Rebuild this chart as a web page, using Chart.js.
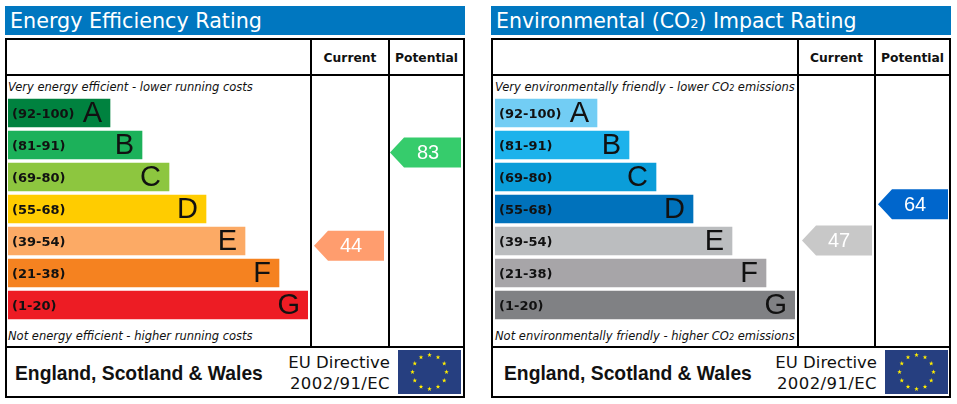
<!DOCTYPE html>
<html>
<head>
<meta charset="utf-8">
<title>EPC ratings</title>
<script src="https://cdn.jsdelivr.net/npm/chart.js@4"></script>
<style>
  html, body { margin: 0; background: #fff; overflow: hidden; }
  .panel { position: absolute; top: 0; width: 460px; height: 404px; font-family: 'DejaVu Sans', sans-serif; color: #111; }
  .panel div, .panel canvas, .panel svg { position: absolute; }
  .head { left: 0; top: 6px; width: 460px; height: 29px; background: #0077c0; color: #fff; line-height: 30px; text-indent: 5px; white-space: nowrap; }
  .head small { font-size: 13px; }
  .frame { left: 0; top: 38px; width: 456px; height: 356px; border: 2px solid #000; }
  .vline { top: 38px; width: 2px; height: 310px; background: #000; }
  .hline { left: 0; height: 2px; width: 460px; background: #000; }
  .col { top: 40px; height: 35px; line-height: 37px; text-align: center; font-size: 12.3px; font-weight: bold; }
  .note { font-size: 11.5px; font-style: italic; white-space: nowrap; line-height: 14px; }
  .note small { font-size: 8px; }
  .region { top: 363px; font: bold 19.3px 'Liberation Sans', sans-serif; white-space: nowrap; }
  .directive { top: 352px; text-align: right; font-size: 16.5px; line-height: 21px; white-space: nowrap; }
  .directive span { letter-spacing: 0.4px; }
</style>
</head>
<body>
<script>
const bands = [
  { label: '(92-100)', letter: 'A', min: 92, max: 100 },
  { label: '(81-91)', letter: 'B', min: 81, max: 91 },
  { label: '(69-80)', letter: 'C', min: 69, max: 80 },
  { label: '(55-68)', letter: 'D', min: 55, max: 68 },
  { label: '(39-54)', letter: 'E', min: 39, max: 54 },
  { label: '(21-38)', letter: 'F', min: 21, max: 38 },
  { label: '(1-20)', letter: 'G', min: 1, max: 20 }
]

// bar lengths
const barLengths = [102, 134, 161, 198, 237, 271, 300]

const panels = [{
  left: 5,
  barLeft: 3,
  noteLeft: 3,
  regionLeft: 10,
  directiveRight: 75,
  flagLeft: 393,
  divider: 305,
  headSize: 20.7,
  title: 'Energy Efficiency Rating',
  top: 'Very energy efficient - lower running costs',
  bottom: 'Not energy efficient - higher running costs',
  colors: ['#00823f', '#1cb15a', '#8dc63f', '#ffcc00', '#fcaa65', '#f58220', '#ed1c24'],
  current: { value: 44, color: '#ff9d6e', left: 311, right: 379 },
  potential: { value: 83, color: '#36cc6c', left: 387, right: 456 }
}, {
  left: 491,
  barLeft: 4,
  noteLeft: 4,
  regionLeft: 13,
  directiveRight: 74,
  flagLeft: 394,
  divider: 306,
  headSize: 20.5,
  title: 'Environmental (CO<small>2</small>) Impact Rating',
  top: 'Very environmentally friendly - lower CO<small>2</small> emissions',
  bottom: 'Not environmentally friendly - higher CO<small>2</small> emissions',
  colors: ['#72cdf4', '#1db2eb', '#0a9dd9', '#0072bc', '#bbbdbf', '#a7a5a8', '#808184'],
  current: { value: 47, color: '#c8c8c8', left: 313, right: 381 },
  potential: { value: 64, color: '#0066cc', left: 389, right: 457 }
}]

// band label and letter on each bar, arrows for the two scores
const epcPlugin = {
  id: 'epc',
  afterDatasetsDraw(chart, args, opts) {
    const ctx = chart.ctx
    const bars = chart.getDatasetMeta(0).data
    ctx.save()
    ctx.fillStyle = '#111'
    ctx.textBaseline = 'middle'
    bars.forEach((bar, i) => {
      ctx.textAlign = 'left'
      ctx.font = 'bold 13px "DejaVu Sans"'
      ctx.fillText(bands[i].label, bar.base + 4, bar.y + 2)
      ctx.textAlign = 'right'
      ctx.font = '29px "Liberation Sans"'
      ctx.fillText(bands[i].letter, bar.x - 8, bar.y + 1)
    })
    drawArrow(chart, opts.current)
    drawArrow(chart, opts.potential)
    ctx.restore()
  }
}

function drawArrow(chart, score) {
  const ctx = chart.ctx
  const idx = bands.findIndex(b => score.value >= b.min && score.value <= b.max)
  const band = bands[idx]
  const bar = chart.getDatasetMeta(0).data[idx]
  const span = band.max - band.min + 1
  const y = bar.y - 14 + (band.max - score.value) / span * 28 + 1.2
  ctx.beginPath()
  ctx.moveTo(score.left - 2, y)
  ctx.lineTo(score.left + 12, y - 15)
  ctx.lineTo(score.right, y - 15)
  ctx.lineTo(score.right, y + 15)
  ctx.lineTo(score.left + 12, y + 15)
  ctx.closePath()
  ctx.fillStyle = score.color
  ctx.fill()
  ctx.fillStyle = '#fff'
  ctx.textAlign = 'center'
  ctx.textBaseline = 'middle'
  ctx.font = '20px "Liberation Sans"'
  ctx.fillText(score.value, score.right - 33, y + 1)
}

function flag(left) {
  const stars = []
  for (let i = 0; i < 12; i++) {
    const a = i * Math.PI / 6
    const cx = 31.5 + 17 * Math.sin(a)
    const cy = 22 - 17 * Math.cos(a)
    const pts = []
    for (let k = 0; k < 10; k++) {
      const r = k % 2 ? 1 : 2.4
      const b = k * Math.PI / 5
      pts.push((cx + r * Math.sin(b)).toFixed(2) + ',' + (cy - r * Math.cos(b)).toFixed(2))
    }
    stars.push(`<polygon points="${pts.join(' ')}" fill="#ffed00"/>`)
  }
  return `<svg style="left:${left}px;top:350px" width="63" height="44"><rect width="63" height="44" fill="#263f80"/>${stars.join('')}</svg>`
}

panels.forEach(p => {
  const el = document.createElement('div')
  el.className = 'panel'
  el.style.left = p.left + 'px'
  el.innerHTML = `
    <div class="head" style="font-size:${p.headSize}px">${p.title}</div>
    <div class="frame"></div>
    <div class="vline" style="left:${p.divider}px"></div>
    <div class="vline" style="left:383px"></div>
    <div class="hline" style="top:74px"></div>
    <div class="hline" style="top:346px"></div>
    <div class="col" style="left:${p.divider + 2}px;width:${75 - (p.divider - 306)}px">Current</div>
    <div class="col" style="left:385px;width:73px">Potential</div>
    <div class="note" style="left:${p.noteLeft}px;top:80px">${p.top}</div>
    <div class="note" style="left:${p.noteLeft}px;top:329px">${p.bottom}</div>
    <div class="region" style="left:${p.regionLeft}px">England, Scotland &amp; Wales</div>
    <div class="directive" style="right:${p.directiveRight}px">EU Directive<br><span>2002/91/EC</span></div>
    ${flag(p.flagLeft)}
    <canvas width="460" height="360" style="left:0;top:38px;width:460px;height:360px"></canvas>`
  document.body.appendChild(el)

  new Chart(el.querySelector('canvas').getContext('2d'), {
    type: 'bar',
    data: {
      labels: bands.map(b => b.label),
      datasets: [{
        data: barLengths,
        backgroundColor: p.colors,
        barThickness: 28
      }]
    },
    options: {
      indexAxis: 'y',
      responsive: false,
      animation: false,
      layout: { padding: { left: p.barLeft, top: 59, right: 460 - p.barLeft - 300, bottom: 77 } },
      scales: {
        x: { display: false, min: 0, max: 300 },
        y: { display: false }
      },
      plugins: {
        legend: { display: false },
        tooltip: { enabled: false },
        epc: { current: p.current, potential: p.potential }
      }
    },
    plugins: [epcPlugin]
  })
})
</script>
</body>
</html>
